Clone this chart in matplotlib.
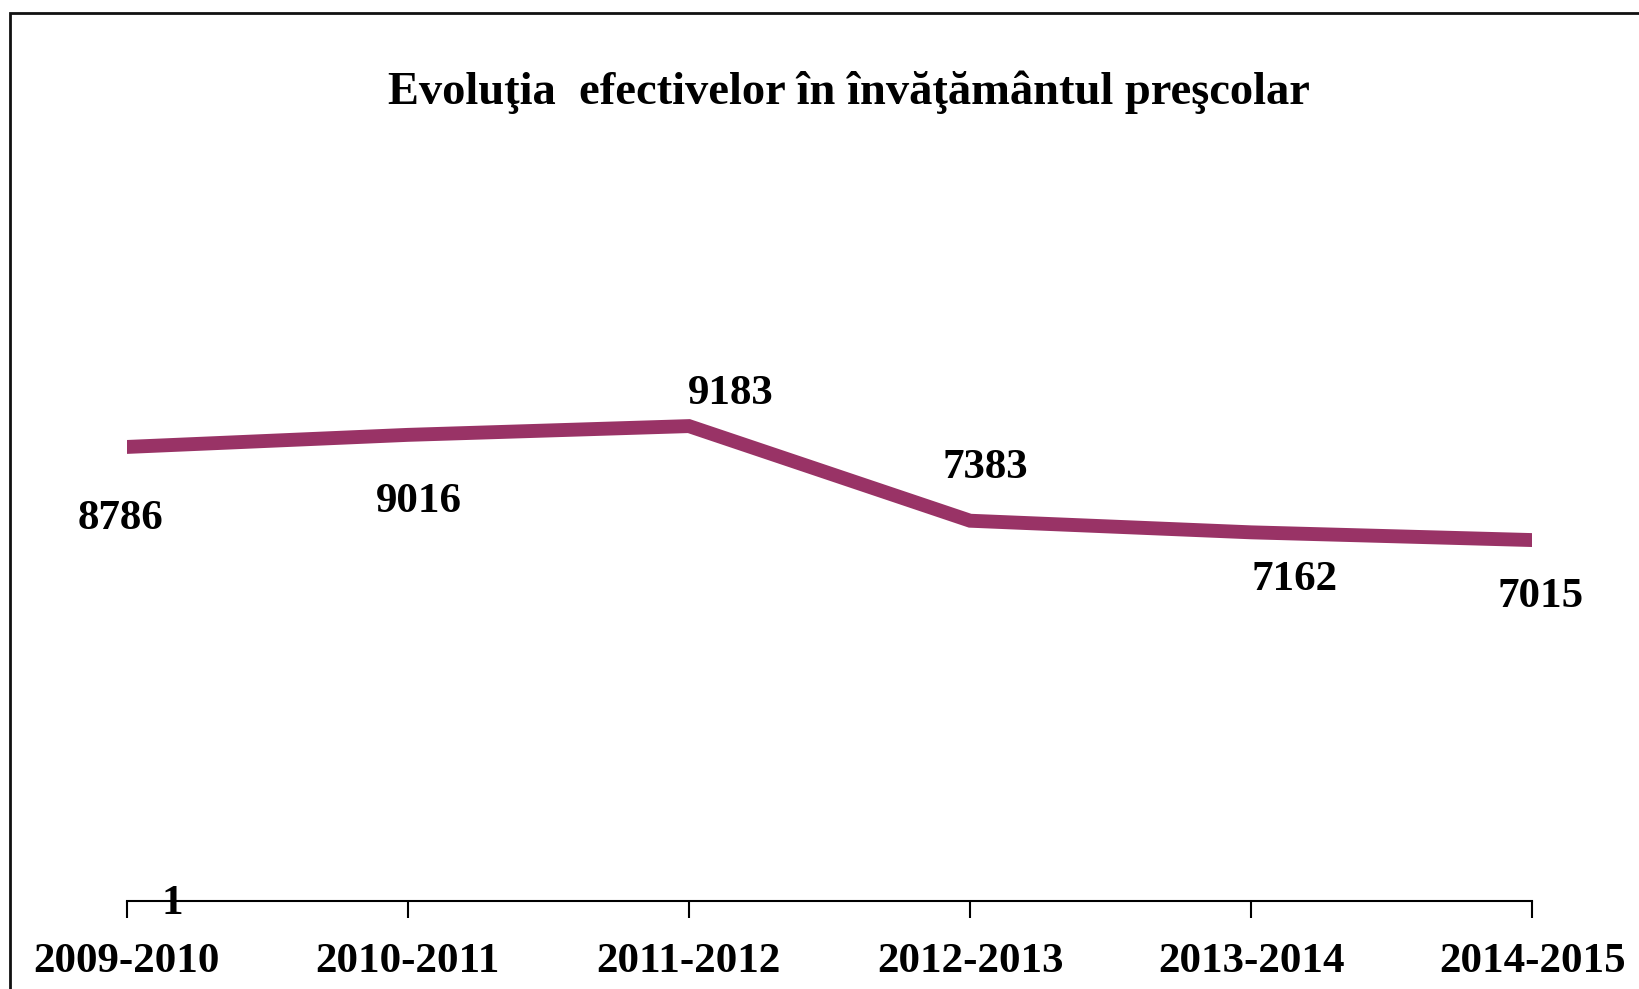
import numpy as np
import matplotlib
matplotlib.use('Agg')
import matplotlib.pyplot as pp
from matplotlib.patches import Rectangle

years = ['2009-2010', '2010-2011', '2011-2012', '2012-2013', '2013-2014', '2014-2015']
elevi = [8786, 9016, 9183, 7383, 7162, 7015]
# label offsets (points) from each point, as placed in the original
lbl_off = [(-4, -52), (8, -48), (30, 23), (11, 38), (31, -34), (5.5, -41)]

pp.rcParams['font.family'] = ['Liberation Serif', 'DejaVu Serif']
pp.rcParams['font.weight'] = 'bold'

fig = pp.figure(figsize=(16.39, 9.89), dpi=100)
ax = fig.add_axes([0.0772, 0.0890, 0.8578, 0.7442])

x = np.arange(len(years))
ax.plot(x, elevi, color='#993366', lw=10, solid_joinstyle='miter', solid_capstyle='butt')

for xi, v, off in zip(x, elevi, lbl_off):
    ax.annotate(str(v), (xi, v), xytext=off, textcoords='offset points',
                ha='center', va='center', fontsize=31, fontweight='bold')

ax.set_xlim(0, len(years) - 1)
ax.set_ylim(150, 14150)
ax.set_yticks([])
ax.text(0.164, -0.004, '1', transform=ax.get_xaxis_transform(),
        ha='center', va='center', fontsize=31, fontweight='bold')

ax.set_xticks(x)
ax.set_xticklabels(years, fontsize=31, fontweight='bold')
ax.tick_params(axis='x', length=12, width=1.5, pad=18, direction='out')
for s in ['top', 'right', 'left']:
    ax.spines[s].set_visible(False)
ax.spines['bottom'].set_linewidth(1.5)

fig.text(0.518, 1 - 92 / 989, 'Evoluţia  efectivelor în învăţământul preşcolar',
         ha='center', va='center', fontsize=33.5, fontweight='bold')

# outer chart frame (runs past right/bottom edge)
fig.patches.append(Rectangle((10 / 1639, -0.05), 1.1, 1 - 13 / 989 + 0.05,
                             transform=fig.transFigure, fill=False, lw=2, ec='#111111'))

fig.savefig('out.png', dpi=100)
